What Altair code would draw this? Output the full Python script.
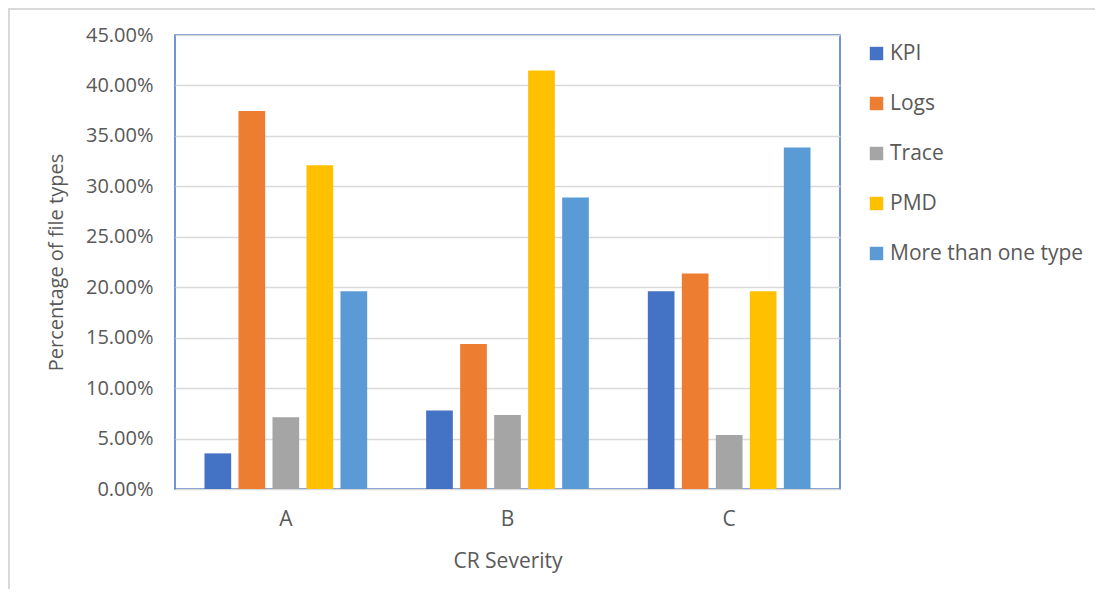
import altair as alt
import pandas as pd

categories = ["A", "B", "C"]
series = ["KPI", "Logs", "Trace", "PMD", "More than one type"]
colors = ["#4472C4", "#ED7D31", "#A5A5A5", "#FFC000", "#5B9BD5"]
kpi = [0.0353, 0.0779, 0.1960]
logs = [0.3746, 0.1436, 0.2136]
trace = [0.0710, 0.0733, 0.0535]
pmd = [0.3208, 0.4149, 0.1960]
more = [0.1960, 0.2890, 0.3386]
y_ticks = [0.0, 0.05, 0.10, 0.15, 0.20, 0.25, 0.30, 0.35, 0.40, 0.45]

values = {"KPI": kpi, "Logs": logs, "Trace": trace, "PMD": pmd, "More than one type": more}
rows = []
for s in series:
    for c, v in zip(categories, values[s]):
        rows.append({"severity": c, "type": s, "pct": v})
df = pd.DataFrame(rows)

FONT = "Open Sans"
TXT = "#595959"

frame = alt.Chart(pd.DataFrame({"k": [0]})).mark_rect(
    fillOpacity=0, stroke="#d9d9d9", strokeWidth=2, clip=False
).encode(
    x=alt.value(-166), x2=alt.value(940), y=alt.value(-26), y2=alt.value(600)
)

bars = alt.Chart(df).mark_bar().encode(
    x=alt.X("severity:N", sort=categories,
            scale=alt.Scale(paddingInner=0.233, paddingOuter=0.1165),
            axis=alt.Axis(title="CR Severity", labelAngle=0, labelFontSize=21,
                          labelFont=FONT, labelColor=TXT, labelPadding=19,
                          ticks=False, domain=False, grid=False,
                          titleFont=FONT, titleFontSize=21, titleColor=TXT,
                          titleFontWeight="normal", titleY=78,
                          titleBaseline="alphabetic")),
    xOffset=alt.XOffset("type:N", sort=series,
                        scale=alt.Scale(paddingInner=0.215, paddingOuter=0.1075)),
    y=alt.Y("pct:Q", scale=alt.Scale(domain=[0, 0.45], nice=False),
            axis=alt.Axis(values=y_ticks, format=".2%", title="Percentage of file types",
                          labelFontSize=20, labelFont=FONT, labelColor=TXT,
                          labelPadding=22, ticks=False, domain=False,
                          grid=True, gridColor="#d9d9d9", gridWidth=1.5,
                          titleFont=FONT, titleFontSize=20, titleColor=TXT,
                          titleFontWeight="normal", titleX=-113,
                          titleBaseline="alphabetic")),
    color=alt.Color("type:N", sort=series,
                    scale=alt.Scale(domain=series, range=colors),
                    legend=alt.Legend(title=None, orient="none", legendX=691, legendY=8,
                                      symbolType="square", symbolSize=180,
                                      symbolStrokeWidth=0, labelFont=FONT,
                                      labelFontSize=21, labelColor=TXT,
                                      rowPadding=28, labelOffset=3, labelLimit=400,
                                      padding=0)),
)

chart = alt.layer(frame, bars).properties(
    width=665, height=454,
    autosize=alt.AutoSizeParams(type="none"),
    padding={"left": 167, "top": 27, "right": 255, "bottom": 100},
).configure_view(stroke="#4472C4", strokeWidth=1.5)

chart.save("out.html", embed_options={"renderer": "svg", "actions": False})
